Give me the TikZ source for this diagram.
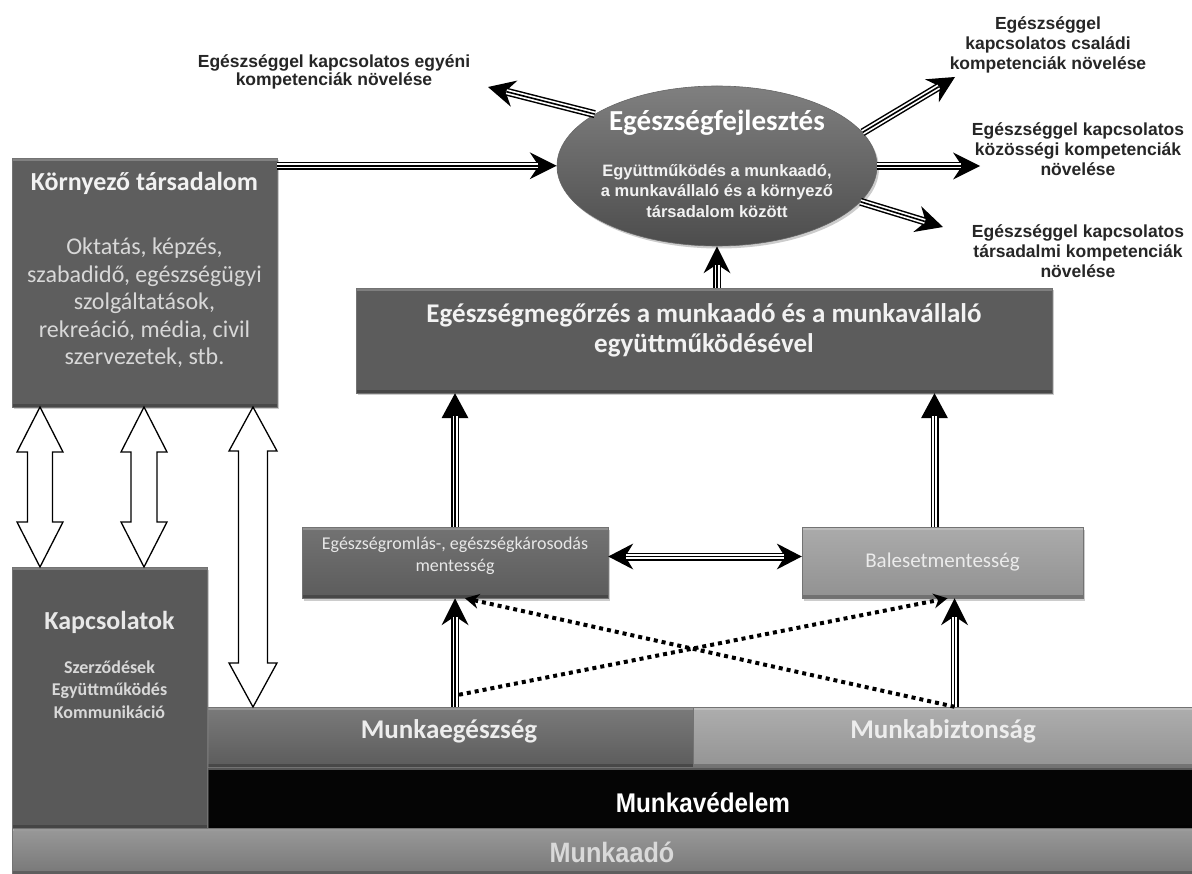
\documentclass[tikz,border=0pt]{standalone}
\usepackage{fontspec}
\setmainfont{Carlito}
\newfontfamily\arialf{Liberation Sans}
\newfontfamily\narrowf[FakeStretch=0.9]{Liberation Sans}
\usetikzlibrary{arrows.meta,shadows,shapes.geometric,calc}
\definecolor{lt}{HTML}{D8D8D8}
\definecolor{lt2}{HTML}{E8E8E8}
\newcommand\blockarr[6]{%
  \draw[hollow] (#1,#2) -- (#1+#4,#2+#6) -- (#1+#5,#2+#6) -- (#1+#5,#3-#6) -- (#1+#4,#3-#6) -- (#1,#3)
     -- (#1-#4,#3-#6) -- (#1-#5,#3-#6) -- (#1-#5,#2+#6) -- (#1-#4,#2+#6) -- cycle;}
\begin{document}
\begin{tikzpicture}[x=1pt,y=-1pt,
  bevel/.style={path picture={
     \fill[white,opacity=.22] (path picture bounding box.north west) rectangle ([yshift=-3pt]path picture bounding box.north east);
     \fill[black,opacity=.22] (path picture bounding box.south west) rectangle ([yshift=3pt]path picture bounding box.south east);}},
  box/.style={rectangle, draw=black!55, line width=0.5pt, inner sep=0pt, bevel,
     drop shadow={opacity=0.4, shadow xshift=2pt, shadow yshift=-2.5pt}},
  ttl/.style={font=\bfseries\fontsize{26}{31}\selectfont, text=white!95!black, align=center, inner sep=0pt},
  bdy/.style={font=\fontsize{24}{27.5}\selectfont, text=lt, align=center, inner sep=0pt},
  lab/.style={font=\arialf\bfseries\fontsize{17.5}{20}\selectfont, text=black!85, align=center, inner sep=0pt},
  tri/.style={line width=8pt, -{Stealth[length=27pt, width=27pt, inset=9pt, line width=0pt]},
     postaction={draw=white, line width=5pt, arrows=-, shorten >=19pt},
     postaction={draw=black, line width=1.6pt, arrows=-, shorten >=19pt}},
  triD/.style={line width=8pt, {Stealth[length=25pt, width=26pt, inset=8pt, line width=0pt]}-{Stealth[length=25pt, width=26pt, inset=8pt, line width=0pt]},
     postaction={draw=white, line width=5pt, arrows=-, shorten >=18pt, shorten <=18pt},
     postaction={draw=black, line width=1.6pt, arrows=-, shorten >=18pt, shorten <=18pt}},
  triT/.style={line width=8pt, -{Triangle[length=25pt, width=27pt, line width=0pt]},
     postaction={draw=white, line width=5pt, arrows=-, shorten >=23pt},
     postaction={draw=black, line width=1.6pt, arrows=-, shorten >=23pt}},
  dots/.style={line width=4pt, dash pattern=on 4pt off 4pt, -{Stealth[length=14pt, width=15pt, line width=0pt]}},
  hollow/.style={draw=black, fill=white, line width=1.3pt, line join=miter}
]
\fill[white] (0,0) rectangle (1192,874);
\useasboundingbox (0,0) rectangle (1192,874);

% bottom layers
\node[box, top color=black!40, bottom color=black!53, minimum width=1180pt, minimum height=46pt] (ma) at (602,851) {};
\node[box, fill=black!98, minimum width=985pt, minimum height=61pt] (mv) at (699.5,797.5) {};
\node[box, top color=black!52, bottom color=black!64, minimum width=486pt, minimum height=60pt] (meg) at (450,737) {};
\node[box, top color=black!32, bottom color=black!42, minimum width=499pt, minimum height=60pt] (mb) at (942.5,737) {};
\node[box, fill=black!65, minimum width=195pt, minimum height=261pt] (ka) at (109.5,697.5) {};
\node[box, fill=black!63, minimum width=265pt, minimum height=249pt] (kt) at (144.5,282.5) {};
\node[box, fill=black!64, minimum width=696pt, minimum height=105pt] (em) at (704,340.5) {};
\node[box, top color=black!55, bottom color=black!64, minimum width=306pt, minimum height=71pt] (er) at (455,562.5) {};
\node[box, top color=black!33, bottom color=black!43, minimum width=281pt, minimum height=71pt] (bm) at (942.5,562.5) {};
\node[ellipse, draw=black!60, line width=0.6pt, top color=black!50, bottom color=black!70,
      minimum width=320pt, minimum height=160pt, inner sep=0pt,
      drop shadow={opacity=0.4, shadow xshift=2pt, shadow yshift=-2.5pt}] (ef) at (717,166) {};

% texts in boxes
\node[ttl] (kt-t) at (144.5,183) {Környező társadalom};
\node[bdy] (kt-b) at (144.5,303) {Oktatás, képzés,\\szabadidő, egészségügyi\\szolgáltatások,\\rekreáció, média, civil\\szervezetek, stb.};
\node[ttl, text=lt2] (ka-t) at (109.5,622) {Kapcsolatok};
\node[font=\bfseries\fontsize{18}{22.5}\selectfont, text=lt, align=center, inner sep=0pt] (ka-b) at (109.5,689.5) {Szerződések\\Együttműködés\\Kommunikáció};
\node[font=\bfseries\fontsize{27}{30}\selectfont, text=white!95!black, align=center, inner sep=0pt] (em-t) at (704,330) {Egészségmegőrzés a munkaadó és a munkavállaló\\együttműködésével};
\node[font=\fontsize{18}{22}\selectfont, text=lt2, align=center, inner sep=0pt] (er-t) at (455,556) {Egészségromlás-, egészségkárosodás\\mentesség};
\node[font=\fontsize{21}{25}\selectfont, text=white!92!black, inner sep=0pt] (bm-t) at (942.5,562) {Balesetmentesség};
\node[font=\bfseries\fontsize{29}{34}\selectfont, text=white, inner sep=0pt] (ef-t) at (717,123) {Egészségfejlesztés};
\node[font=\arialf\bfseries\fontsize{16.5}{20.5}\selectfont, text=white!95!black, align=center, inner sep=0pt] (ef-b) at (717,191) {Együttműködés a munkaadó,\\a munkavállaló és a környező\\társadalom között};
\node[font=\bfseries\fontsize{27}{32}\selectfont, text=white!93!black, inner sep=0pt] (meg-t) at (449,731) {Munkaegészség};
\node[font=\bfseries\fontsize{27}{32}\selectfont, text=white!93!black, inner sep=0pt] (mb-t) at (943,731) {Munkabiztonság};
\node[font=\narrowf\bfseries\fontsize{27}{32}\selectfont, text=white, inner sep=0pt] (mv-t) at (703,803) {Munkavédelem};
\node[font=\narrowf\bfseries\fontsize{28}{32}\selectfont, text=black!15, inner sep=0pt] (ma-t) at (612,852) {Munkaadó};

% outer labels
\node[lab, font=\arialf\bfseries\fontsize{17.5}{18}\selectfont] (l1) at (334,71.5) {Egészséggel kapcsolatos egyéni\\kompetenciák növelése};
\node[lab] (l2) at (1048,45) {Egészséggel\\kapcsolatos családi\\kompetenciák növelése};
\node[lab] (l3) at (1078,149) {Egészséggel kapcsolatos\\közösségi kompetenciák\\növelése};
\node[lab] (l4) at (1078,251) {Egészséggel kapcsolatos\\társadalmi kompetenciák\\növelése};

% arrow free ends
\coordinate (p1) at (488,87);
\coordinate (p2) at (955,77);
\coordinate (p3) at (980,166);
\coordinate (p4) at (943,227);
\coordinate (kin) at ($(kt.north east)+(0,8)$);
\coordinate (bmt) at ($(bm.north)+(-8,0)$);
\coordinate (bmb) at ($(bm.south)+(12,0)$);
\coordinate (lb) at (er.south |- meg.north);
\coordinate (rb) at (bmb |- mb.north);

% triple-line arrows
\draw[tri] (kin) -- (kin -| ef.west);
\draw[tri] (ef.157) -- (p1);
\draw[tri] (ef.13) -- (p2);
\draw[tri] (ef.east) -- (p3);
\draw[tri] (ef.-14) -- (p4);
\draw[tri] (ef.south |- em.north) -- (ef.south);
\draw[triT] (er.north) -- (er.north |- em.south);
\draw[triT] (bmt) -- (bmt |- em.south);
\draw[triD] ([yshift=6pt]er.east) -- ([yshift=6pt]bm.west);
\draw[tri] (lb) -- (er.south);
\draw[tri] (rb) -- (bmb);

% dotted arrows
\draw[dots] ([shift={(4,-12)}]lb) -- ([xshift=5pt]bm.south);
\draw[dots] (rb) -- ([xshift=10pt]er.south);

% hollow double block arrows
\blockarr{40}{407}{567}{23}{12.5}{45}
\blockarr{144}{407}{567}{23}{13}{45}
\blockarr{253}{407}{707}{24}{14.5}{44}
\end{tikzpicture}
\end{document}
